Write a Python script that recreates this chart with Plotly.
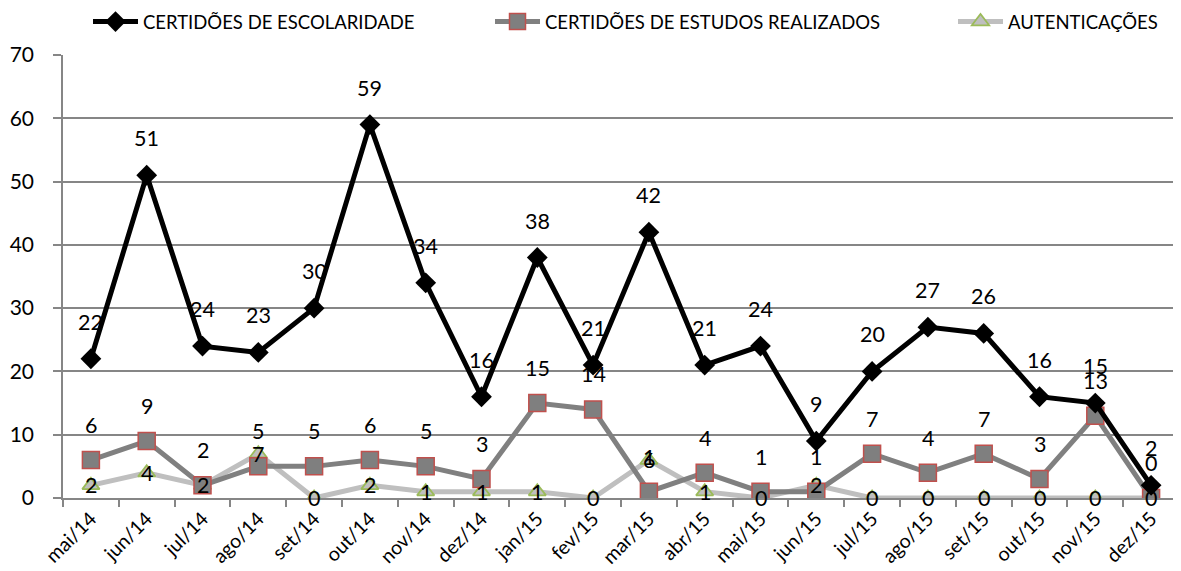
import plotly.graph_objects as go

months = ["mai/14","jun/14","jul/14","ago/14","set/14","out/14","nov/14","dez/14",
          "jan/15","fev/15","mar/15","abr/15","mai/15","jun/15","jul/15","ago/15",
          "set/15","out/15","nov/15","dez/15"]
escolaridade = [22,51,24,23,30,59,34,16,38,21,42,21,24,9,20,27,26,16,15,2]
estudos = [6,9,2,5,5,6,5,3,15,14,1,4,1,1,7,4,7,3,13,0]
autenticacoes = [2,4,2,7,0,2,1,1,1,0,6,1,0,2,0,0,0,0,0,0]

FONT = "Lato"
fig = go.Figure()

fig.add_trace(go.Scatter(x=months, y=autenticacoes, name="AUTENTICAÇÕES",
    mode="lines+markers", line=dict(color="#BFBFBF", width=5), legend="legend3",
    marker=dict(symbol="triangle-up", size=15, color="#BFBFBF",
                line=dict(color="#9BBB59", width=1.8))))
fig.add_trace(go.Scatter(x=months, y=estudos, name="CERTIDÕES DE ESTUDOS REALIZADOS",
    mode="lines+markers", line=dict(color="#808080", width=5), legend="legend2",
    marker=dict(symbol="square", size=17, color="#7F7F7F",
                line=dict(color="#C0504D", width=1.5))))
fig.add_trace(go.Scatter(x=months, y=escolaridade, name="CERTIDÕES DE ESCOLARIDADE",
    mode="lines+markers", line=dict(color="#000000", width=5), legend="legend",
    marker=dict(symbol="diamond", size=16, color="#000000")))

annotations = []
for m, v in zip(months, escolaridade):
    annotations.append(dict(x=m, y=v, text=str(v), showarrow=False, yshift=37,
                            font=dict(family=FONT, size=21.5, color="#000")))
for m, v in zip(months, estudos):
    annotations.append(dict(x=m, y=v, text=str(v), showarrow=False, yshift=35,
                            font=dict(family=FONT, size=21.5, color="#000")))
for m, v in zip(months, autenticacoes):
    annotations.append(dict(x=m, y=v, text=str(v), showarrow=False, yshift=0,
                            font=dict(family=FONT, size=21.5, color="#000")))

W, H = 1173, 563
T, B = 47, 73
PLOT_H = H - T - B

def leg(xpix):
    return dict(orientation="h", xref="container", yref="paper",
                x=xpix / W, xanchor="left", y=1 + (T + 5) / PLOT_H, yanchor="top",
                font=dict(size=18.5), itemwidth=45, bgcolor="rgba(0,0,0,0)")

fig.update_layout(
    width=W, height=H,
    paper_bgcolor="white", plot_bgcolor="white",
    margin=dict(l=55, r=2, t=T, b=B, autoexpand=False),
    font=dict(family=FONT, size=17, color="#000"),
    annotations=annotations,
    legend=leg(80), legend2=leg(482), legend3=leg(945),
    showlegend=True,
)
fig.update_xaxes(type="category", tickangle=-45, tickson="boundaries",
                 ticks="outside", ticklen=7, tickcolor="#868686", tickwidth=1.5,
                 showline=True, linecolor="#868686", linewidth=1.5, automargin=False,
                 showgrid=False, tickfont=dict(size=19.5), range=[-0.5, 19.5])
fig.update_yaxes(range=[0, 70], dtick=10, showgrid=True, gridcolor="#868686",
                 gridwidth=1.5, showline=True, linecolor="#868686", linewidth=1.5,
                 ticks="outside", ticklen=8, tickcolor="#868686", tickwidth=1.5,
                 ticklabelstandoff=15, automargin=False,
                 tickfont=dict(size=21), zeroline=False)

fig.write_html("out.html")
